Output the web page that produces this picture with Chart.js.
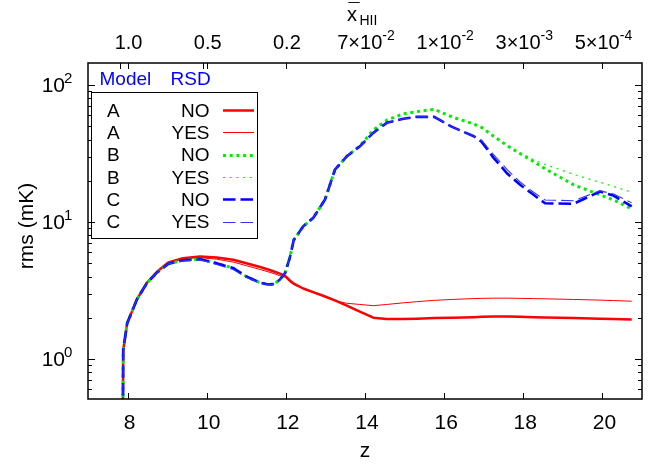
<!DOCTYPE html>
<html><head><meta charset="utf-8">
<script src="https://cdn.jsdelivr.net/npm/chart.js@4.4.1/dist/chart.umd.min.js"></script>
<style>html,body{margin:0;padding:0;background:#fff;}canvas{display:block;}</style>
</head><body>
<canvas id="c" width="654" height="465"></canvas>
<script>
// ---------- data ----------
const z = [7.88, 7.89, 7.99, 8.23, 8.48, 8.75, 9.03, 9.4, 9.83, 10.25, 10.67, 11.0, 11.35, 11.55, 11.7, 11.85, 11.98, 12.1, 12.2, 12.44, 12.69, 12.99, 13.24, 13.54, 13.87, 14.21, 14.55, 14.97, 15.31, 15.75, 16.2, 16.75, 16.95, 17.25, 17.6, 17.92, 18.26, 18.55, 19.27, 19.94, 20.28, 20.74];
const rmsA_NO  = [0.3, 1.16, 1.82, 2.70, 3.58, 4.35, 5.06, 5.45, 5.60, 5.50, 5.30, 5.00, 4.69, 4.50, 4.35, 4.20, 4.05, 3.75, 3.55, 3.27, 3.08, 2.86, 2.68, 2.45, 2.22, 2.00, 1.96, 1.96, 1.97, 1.99, 2.00, 2.02, 2.03, 2.04, 2.04, 2.03, 2.02, 2.01, 1.99, 1.97, 1.96, 1.94];
const rmsA_YES = [0.3, 1.16, 1.82, 2.70, 3.58, 4.35, 5.06, 5.40, 5.50, 5.35, 5.10, 4.80, 4.50, 4.33, 4.20, 4.05, 3.95, 3.65, 3.50, 3.25, 3.05, 2.85, 2.66, 2.55, 2.50, 2.45, 2.50, 2.57, 2.62, 2.68, 2.72, 2.76, 2.77, 2.78, 2.78, 2.77, 2.76, 2.75, 2.72, 2.69, 2.67, 2.64];
const rmsB_NO  = [0.3, 1.16, 1.82, 2.70, 3.55, 4.30, 4.95, 5.25, 5.35, 5.00, 4.61, 4.00, 3.60, 3.50, 3.52, 3.80, 4.24, 5.50, 7.40, 9.30, 10.7, 14.6, 24.1, 30.2, 36.0, 47.0, 55.5, 61.7, 64.0, 66.5, 58.5, 52.0, 49.0, 42.3, 36.0, 31.5, 27.7, 24.5, 18.7, 15.8, 14.5, 12.5];
const rmsB_YES = [0.3, 1.16, 1.82, 2.70, 3.55, 4.30, 4.95, 5.25, 5.35, 5.00, 4.61, 4.00, 3.60, 3.50, 3.52, 3.80, 4.24, 5.50, 7.40, 9.30, 10.7, 14.6, 24.1, 30.2, 36.0, 47.0, 55.5, 61.7, 64.0, 66.5, 58.5, 52.0, 49.0, 42.3, 36.0, 32.0, 28.5, 26.3, 22.3, 19.5, 18.2, 16.5];
const rmsC_NO  = [0.3, 1.16, 1.82, 2.70, 3.55, 4.30, 4.95, 5.25, 5.35, 5.00, 4.61, 4.00, 3.60, 3.50, 3.52, 3.80, 4.24, 5.50, 7.40, 9.30, 10.7, 14.6, 24.1, 30.2, 35.7, 44.8, 53.0, 56.7, 58.6, 58.6, 49.5, 42.3, 38.5, 29.4, 22.5, 18.7, 15.8, 13.7, 13.6, 16.7, 15.6, 13.0];
const rmsC_YES = [0.3, 1.16, 1.82, 2.70, 3.55, 4.30, 4.95, 5.20, 5.30, 4.90, 4.50, 3.95, 3.58, 3.48, 3.52, 3.80, 4.24, 5.50, 7.40, 9.30, 10.7, 14.6, 24.1, 30.2, 35.7, 44.8, 53.0, 56.7, 58.6, 58.6, 49.5, 42.3, 39.5, 31.0, 24.0, 19.6, 16.5, 14.5, 14.3, 16.9, 16.0, 13.8];

const seriesNames = ['A NO', 'A YES', 'B NO', 'B YES', 'C NO', 'C YES'];
const legendModel = ['A', 'A', 'B', 'B', 'C', 'C'];
const legendRSD = ['NO', 'YES', 'NO', 'YES', 'NO', 'YES'];

const xTickValues = [8, 10, 12, 14, 16, 18, 20];
const yTickValues = [1, 10, 100];
const yTickExponents = ['0', '1', '2'];
const yMinorValues = [0.6, 0.7, 0.8, 0.9, 2, 3, 4, 5, 6, 7, 8, 9, 20, 30, 40, 50, 60, 70, 80, 90];
const topTickZ = [7.8, 8, 9.9, 10, 12, 14, 16, 18, 20];
const topLabelZ = [8, 10, 12, 14, 16, 18, 20];
const topLabelBase = ['1.0', '0.5', '0.2', '7\u00d710', '1\u00d710', '3\u00d710', '5\u00d710'];
const topLabelExp = ['', '', '', '-2', '-2', '-3', '-4'];

// ---------- styles ----------
const FONT = "'Liberation Sans', Arial, sans-serif";
const styles = [
  {color: '#ff0000', width: 2.5, dash: []},
  {color: '#ff0000', width: 1, dash: []},
  {color: '#00ee00', width: 3, dash: [3, 3.7]},
  {color: '#00ee00', width: 1.2, dash: [2, 4.7]},
  {color: '#0000ff', width: 2.6, dash: [12.5, 5]},
  {color: '#3333ff', width: 1.1, dash: [12.5, 5]}
];
const allSeries = [rmsA_NO, rmsA_YES, rmsB_NO, rmsB_YES, rmsC_NO, rmsC_YES];

const datasets = allSeries.map((vals, k) => ({
  label: seriesNames[k],
  data: z.map((zz, i) => ({x: zz, y: vals[i]})),
  borderColor: styles[k].color,
  borderWidth: styles[k].width,
  borderDash: styles[k].dash,
  borderCapStyle: 'butt',
  borderJoinStyle: 'round',
  pointRadius: 0,
  tension: 0,
  fill: false,
  order: 6 - k
}));

const decor = {
  id: 'decor',
  afterDatasetsDraw(chart) {
    const ctx = chart.ctx, a = chart.chartArea, xs = chart.scales.x, ys = chart.scales.y;
    ctx.save();
    ctx.strokeStyle = '#000';
    ctx.fillStyle = '#000';
    ctx.lineWidth = 1;
    // ticks
    ctx.beginPath();
    xTickValues.forEach(v => { const p = Math.round(xs.getPixelForValue(v)) + 0.5; ctx.moveTo(p, a.bottom); ctx.lineTo(p, a.bottom - 6); });
    topTickZ.forEach(v => { const p = Math.round(xs.getPixelForValue(v)) + 0.5; ctx.moveTo(p, a.top); ctx.lineTo(p, a.top + 6); });
    yTickValues.forEach(v => { const p = Math.round(ys.getPixelForValue(v)) + 0.5; ctx.moveTo(a.left, p); ctx.lineTo(a.left + 7, p); ctx.moveTo(a.right, p); ctx.lineTo(a.right - 7, p); });
    yMinorValues.forEach(v => { const p = Math.round(ys.getPixelForValue(v)) + 0.5; ctx.moveTo(a.left, p); ctx.lineTo(a.left + 4, p); ctx.moveTo(a.right, p); ctx.lineTo(a.right - 4, p); });
    ctx.stroke();
    // frame
    ctx.lineWidth = 1.5;
    ctx.strokeRect(a.left, a.top, a.right - a.left, a.bottom - a.top);

    // bottom tick labels
    ctx.font = '21px ' + FONT;
    ctx.textAlign = 'center';
    ctx.textBaseline = 'alphabetic';
    xTickValues.forEach(v => ctx.fillText(String(v), xs.getPixelForValue(v) + 2, 428.5));
    // y tick labels with superscripts
    yTickValues.forEach((v, i) => {
      const p = ys.getPixelForValue(v);
      ctx.font = '21px ' + FONT; ctx.textAlign = 'right';
      ctx.fillText('10', 65, p + 6.8);
      ctx.font = '15px ' + FONT; ctx.textAlign = 'left';
      ctx.fillText(yTickExponents[i], 64, p - 1.8);
    });
    // top tick labels
    topLabelZ.forEach((v, i) => {
      const cx = xs.getPixelForValue(v);
      ctx.font = '20px ' + FONT; const w1 = ctx.measureText(topLabelBase[i]).width;
      ctx.font = '14px ' + FONT; const w2 = topLabelExp[i] ? ctx.measureText(topLabelExp[i]).width : 0;
      const x0 = cx - (w1 + w2) / 2 + 1;
      ctx.textAlign = 'left';
      ctx.font = '20px ' + FONT; ctx.fillText(topLabelBase[i], x0, 49);
      if (topLabelExp[i]) { ctx.font = '14px ' + FONT; ctx.fillText(topLabelExp[i], x0 + w1, 39.5); }
    });
    // top axis title  x̄_HII
    ctx.textAlign = 'left';
    ctx.font = '20px ' + FONT;
    ctx.fillText('x', 347, 21);
    ctx.fillText('\u00af', 348.5, 16.5);
    ctx.font = '14px ' + FONT;
    ctx.fillText('HII', 359.5, 25);
    // axis titles
    ctx.font = '21px ' + FONT;
    ctx.textAlign = 'center';
    ctx.textBaseline = 'middle';
    ctx.fillText('z', (a.left + a.right) / 2, 451);
    ctx.save();
    ctx.translate(27, 226);
    ctx.rotate(-Math.PI / 2);
    ctx.fillText('rms (mK)', 0, 0);
    ctx.restore();

    // legend
    ctx.textBaseline = 'alphabetic';
    ctx.font = '19px ' + FONT;
    ctx.fillStyle = '#0000ff';
    ctx.textAlign = 'left';
    ctx.fillText('Model', 99.5, 85);
    ctx.fillText('RSD', 170.5, 85);
    ctx.strokeStyle = '#000';
    ctx.lineWidth = 1;
    ctx.strokeRect(91.5, 92.5, 166, 146);
    ctx.fillStyle = '#000';
    for (let k = 0; k < 6; k++) {
      const cy = 110 + k * 22.3;
      ctx.textAlign = 'center';
      ctx.fillText(legendModel[k], 113.3, cy + 6.8);
      ctx.textAlign = 'right';
      ctx.fillText(legendRSD[k], 209.5, cy + 6.8);
      ctx.save();
      ctx.strokeStyle = styles[k].color;
      ctx.lineWidth = styles[k].width;
      ctx.setLineDash(styles[k].dash);
      ctx.beginPath();
      ctx.moveTo(223, Math.round(cy) + 0.5);
      ctx.lineTo(254, Math.round(cy) + 0.5);
      ctx.stroke();
      ctx.restore();
    }
    ctx.restore();
  }
};

new Chart(document.getElementById('c'), {
  type: 'line',
  data: {datasets},
  options: {
    responsive: false,
    animation: false,
    devicePixelRatio: 1,
    layout: {padding: {left: 88, top: 63, right: 12, bottom: 66}},
    plugins: {legend: {display: false}, tooltip: {enabled: false}},
    scales: {
      x: {type: 'linear', min: 7, max: 21, display: false},
      y: {type: 'logarithmic', min: 0.51, max: 145, display: false}
    }
  },
  plugins: [decor]
});
</script>
</body></html>
